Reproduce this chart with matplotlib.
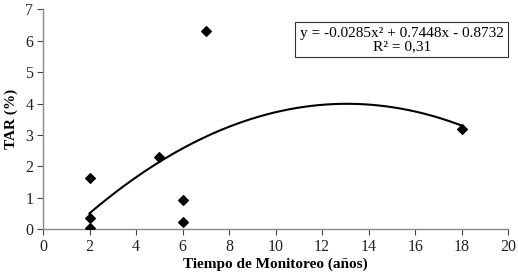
import numpy as np
import matplotlib
matplotlib.use("Agg")
import matplotlib.pyplot as plt

# --- DATA ---
tiempo = [2, 2, 2, 5, 6, 6, 7, 18]
tar    = [0.05, 0.35, 1.62, 2.30, 0.93, 0.22, 6.30, 3.20]
coef   = [-0.0285, 0.7448, -0.8732]   # polynomial trend, 2nd order
xticks = [0, 2, 4, 6, 8, 10, 12, 14, 16, 18, 20]
yticks = [0, 1, 2, 3, 4, 5, 6, 7]

plt.rcParams['font.family'] = ['Liberation Serif', 'DejaVu Serif']

fig = plt.figure(figsize=(5.18, 2.78), dpi=100)
ax = fig.add_axes([0.083, 0.176, 0.898, 0.79])

ax.scatter(tiempo, tar, marker='D', s=24, color='black', zorder=3)

xs = np.linspace(min(tiempo), max(tiempo), 200)
ax.plot(xs, np.polyval(coef, xs), color='black', lw=1.5)

ax.set_xlim(0, 20)
ax.set_ylim(0, 7)
ax.set_xticks(xticks)
ax.set_yticks(yticks)
ax.tick_params(labelsize=11.5, colors='#444444', length=4, width=0.8, pad=3)
for lab in ax.get_xticklabels() + ax.get_yticklabels():
    lab.set_color('#222222')
for s in ['top', 'right']:
    ax.spines[s].set_visible(False)
for s in ['left', 'bottom']:
    ax.spines[s].set_color('#888888')
    ax.spines[s].set_linewidth(1.0)

ax.set_xlabel('Tiempo de Monitoreo (años)', fontsize=11, fontweight='bold', labelpad=2)
ax.set_ylabel('TAR (%)', fontsize=11, fontweight='bold', labelpad=5)

ax.text(0.771, 0.862, 'y = -0.0285x² + 0.7448x - 0.8732\nR² = 0,31',
        transform=ax.transAxes, ha='center', va='center', fontsize=11,
        linespacing=1.0,
        bbox=dict(boxstyle='square,pad=0.3', fc='white', ec='#333333', lw=0.8))

fig.savefig('out.png', dpi=100)
